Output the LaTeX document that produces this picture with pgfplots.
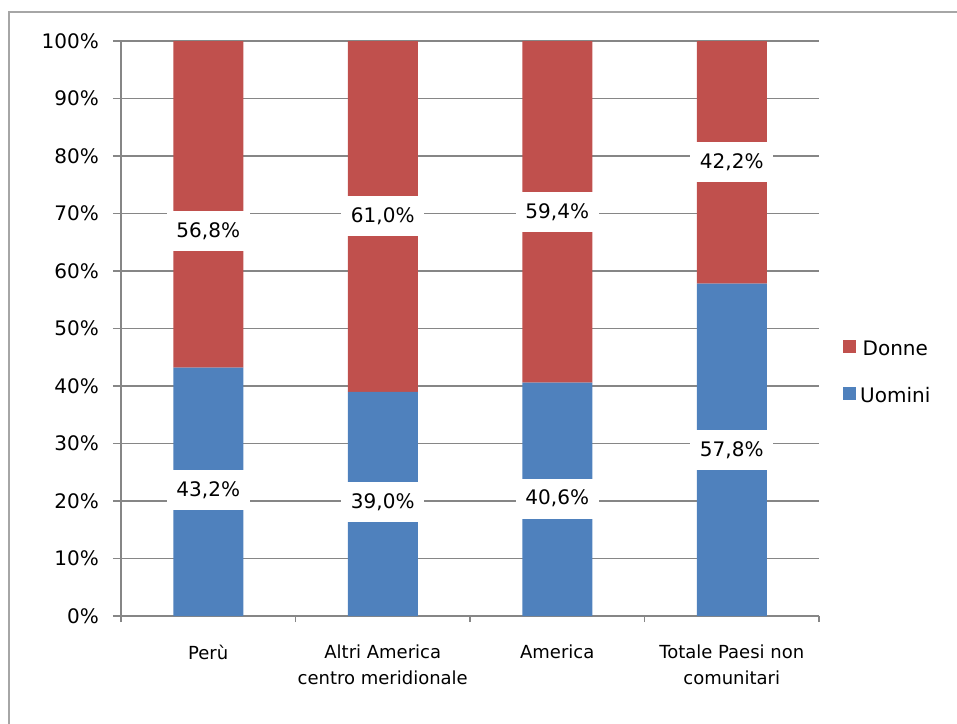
\documentclass[border=0pt]{standalone}
\usepackage{pgfplots}
\pgfplotsset{compat=1.18}
\usepackage{fontspec}
\setmainfont{DejaVu Sans}
\definecolor{rosso}{RGB}{192,80,77}
\definecolor{blu}{RGB}{79,129,189}
\definecolor{griglia}{RGB}{134,134,134}
\definecolor{bordo}{RGB}{166,166,166}

\begin{document}
\begin{tikzpicture}
\useasboundingbox (0,0) rectangle (957bp,-724bp);
\draw[bordo, line width=2bp] (9bp,-724bp) -- (9bp,-12bp) -- (957bp,-12bp);
\begin{axis}[
    at={(121bp,-616bp)}, anchor=south west,
    scale only axis, width=698bp, height=575bp,
    ybar stacked, bar width=70bp,
    xmin=-0.5, xmax=3.5, ymin=0, ymax=100,
    axis x line*=bottom, axis y line*=left,
    axis line style={griglia, line width=1.3bp},
    ymajorgrids, grid style={griglia, line width=1.3bp},
    tick align=outside, major tick length=8bp, minor tick length=6bp,
    tick style={griglia, line width=1.3bp},
    major x tick style={draw=none},
    ytick={0,10,...,100},
    yticklabels={0\%,10\%,20\%,30\%,40\%,50\%,60\%,70\%,80\%,90\%,100\%},
    xtick={0,1,2,3},
    minor xtick={-0.5,0.5,1.5,2.5,3.5},
    xticklabels={Perù,{Altri America\\centro meridionale},America,{Totale Paesi non\\comunitari}},
    yticklabel style={font=\fontsize{20bp}{24bp}\selectfont, anchor=east, inner sep=0pt, xshift=-14bp},
    xticklabel style={font=\fontsize{18bp}{26bp}\selectfont, align=center, anchor=north, inner sep=0pt, yshift=-21bp},
    legend style={at={(rel axis cs:1.0344,0.480)}, anchor=north west, draw=none, fill=none,
        inner sep=0pt, row sep=27bp, font=\fontsize{20bp}{24bp}\selectfont,
        nodes={inner sep=0pt, text height=15bp, text depth=4bp},
        /tikz/every odd column/.append style={column sep=4bp}},
    reverse legend,
    legend image code/.code={\fill (0bp,-3bp) rectangle (13bp,10bp);},
]
\addplot[fill=blu, draw=none] coordinates {(0,43.2) (1,39.0) (2,40.6) (3,57.8)};
\addlegendentry{Uomini}
\addplot[fill=rosso, draw=none] coordinates {(0,56.8) (1,61.0) (2,59.4) (3,42.2)};
\addlegendentry{Donne}
\end{axis}
\begin{axis}[
    at={(121bp,-616bp)}, anchor=south west,
    scale only axis, width=698bp, height=575bp,
    xmin=-0.5, xmax=3.5, ymin=0, ymax=100,
    hide axis, clip=false,
]
\addplot[draw=none, mark=none, nodes near coords, point meta=explicit symbolic,
    nodes near coords style={anchor=center, fill=white, inner sep=0pt,
        minimum width=83bp, minimum height=40bp, font=\fontsize{20bp}{24bp}\selectfont}]
    coordinates {
    (0,21.9) [{43,2\%}]
    (1,19.8) [{39,0\%}]
    (2,20.4) [{40,6\%}]
    (3,28.9) [{57,8\%}]
    (0,66.9) [{56,8\%}]
    (1,69.6) [{61,0\%}]
    (2,70.3) [{59,4\%}]
    (3,79.0) [{42,2\%}]
    };
\end{axis}
\end{tikzpicture}
\end{document}
